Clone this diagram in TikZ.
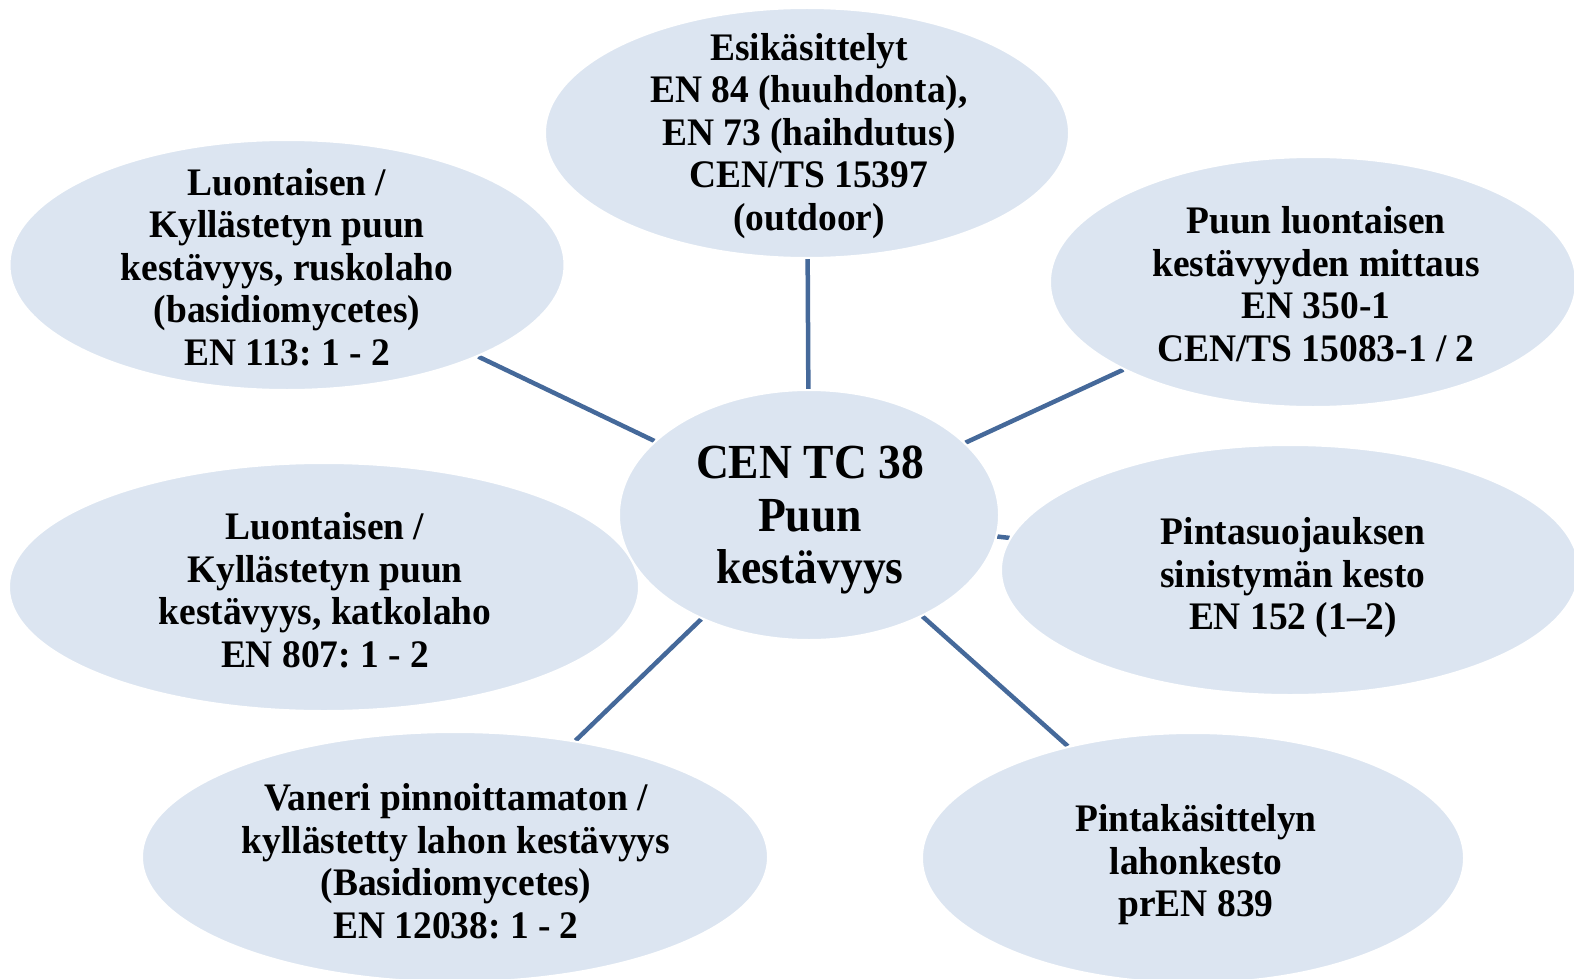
\documentclass[tikz,border=0pt]{standalone}
\usepackage{fontspec}
\setmainfont{Liberation Serif}
\newfontfamily\leaffont[FakeStretch=0.96]{Liberation Serif}
\newfontfamily\hubfont[FakeStretch=0.93]{Liberation Serif}
\usetikzlibrary{shapes.geometric}
\definecolor{bubblefill}{HTML}{DCE5F1}
\definecolor{spokeblue}{HTML}{45699A}
\pgfdeclarelayer{background}
\pgfsetlayers{background,main}
\frenchspacing
\begin{document}
\begin{tikzpicture}[x=1pt,y=-1pt,
  bubble/.style={ellipse, fill=bubblefill, draw=white, line width=2pt, inner sep=0pt},
  leaftext/.style={align=center, font=\leaffont\bfseries\fontsize{39}{42.5}\selectfont, inner sep=0pt},
  hubtext/.style={align=center, font=\hubfont\bfseries\fontsize{49}{52.5}\selectfont, inner sep=0pt},
  spoke/.style={draw=spokeblue, line width=4.5pt}]
\useasboundingbox (0,0) rectangle (1574,979);
\clip (0,0) rectangle (1574,979);

% outer bubbles
\node[bubble, minimum width=524, minimum height=250] (t)  at (807,133) {};
\node[bubble, minimum width=555, minimum height=250] (tl) at (287,265) {};
\node[bubble, minimum width=526, minimum height=250] (tr) at (1313,282) {};
\node[bubble, minimum width=578, minimum height=250] (mr) at (1290,570) {};
\node[bubble, minimum width=630, minimum height=248] (ml) at (324,587) {};
\node[bubble, minimum width=626, minimum height=250] (bl) at (455,857) {};
\node[bubble, minimum width=542, minimum height=250] (br) at (1193,858) {};
% hub bubble on top
\node[bubble, minimum width=380, minimum height=250] (c)  at (809,515) {};

% spokes behind the bubbles
\begin{pgfonlayer}{background}
  \draw[spoke] (c) -- (t);
  \draw[spoke] (c) -- (tl);
  \draw[spoke] (c) -- (tr);
  \draw[spoke] (c) -- (mr);
  \draw[spoke] (c) -- (bl);
  \draw[spoke] (c) -- (br);
\end{pgfonlayer}

% texts
\node[leaftext] (t-txt) at ([xshift=2pt,yshift=-3pt]t) {Esikäsittelyt\\EN 84 (huuhdonta),\\EN 73 (haihdutus)\\CEN/TS 15397\\(outdoor)};
\node[leaftext] (tl-txt) at ([yshift=-2pt]tl) {Luontaisen /\\Kyllästetyn puun\\kestävyys, ruskolaho\\(basidiomycetes)\\EN 113: 1 - 2};
\node[leaftext] (tr-txt) at ([xshift=3pt,yshift=-2pt]tr) {Puun luontaisen\\kestävyyden mittaus\\EN 350-1\\CEN/TS 15083-1 / 2};
\node[leaftext] (mr-txt) at ([xshift=3pt,yshift=-8pt]mr) {Pintasuojauksen\\sinistymän kesto\\EN 152 (1–2)};
\node[leaftext] (ml-txt) at ([xshift=1pt,yshift=-3pt]ml) {Luontaisen /\\Kyllästetyn puun\\kestävyys, katkolaho\\EN 807: 1 - 2};
\node[leaftext] (bl-txt) at ([xshift=1pt,yshift=-4pt]bl) {Vaneri pinnoittamaton /\\kyllästetty lahon kestävyys\\(Basidiomycetes)\\EN 12038: 1 - 2};
\node[leaftext] (br-txt) at ([xshift=3pt,yshift=-7pt]br) {Pintakäsittelyn\\lahonkesto\\prEN 839};
\node[hubtext] (c-txt) at ([xshift=1pt,yshift=-5pt]c) {CEN TC 38\\Puun\\kestävyys};
\end{tikzpicture}
\end{document}
